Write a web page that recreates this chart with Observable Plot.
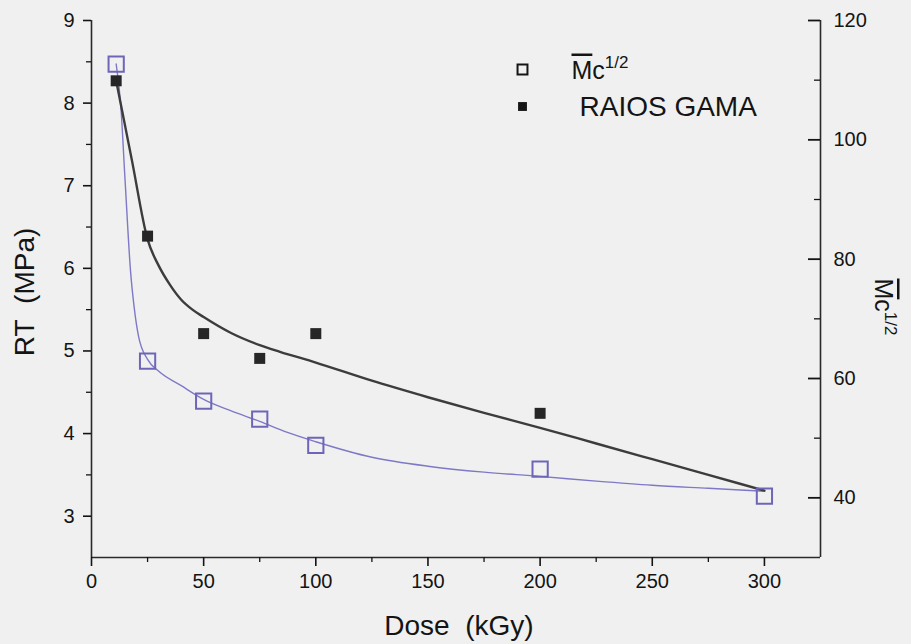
<!DOCTYPE html>
<html><head><meta charset="utf-8">
<script src="https://cdn.jsdelivr.net/npm/d3@7"></script>
<script src="https://cdn.jsdelivr.net/npm/@observablehq/plot@0.6"></script>
<style>
html,body{margin:0;padding:0;background:#f0f0f0;}
#chart{width:911px;height:644px;}
</style></head><body><div id="chart"></div>
<script>
// Measured points
const doses = [11, 25, 50, 75, 100, 200];
const rtValues = [8.27, 6.39, 5.21, 4.91, 5.21, 4.245];
const mcDoses = [11, 25, 50, 75, 100, 200, 300];
const mcValues = [112.7, 62.9, 56.2, 53.2, 48.8, 44.8, 40.3];
// Fitted curves
const rtFitDose = [11, 18, 25, 30, 35, 40, 45, 50, 62, 75, 84, 100, 125, 150, 175, 200, 225, 250, 275, 300];
const rtFitValues = [8.27, 7.31, 6.35, 6.03, 5.8, 5.62, 5.5, 5.41, 5.22, 5.07, 4.99, 4.86, 4.64, 4.44, 4.25, 4.07, 3.88, 3.69, 3.5, 3.31];
const mcFitDose = [11, 13, 15, 17.4, 19, 21, 25, 30, 40, 50, 62, 75, 87, 100, 125, 150, 175, 200, 225, 250, 275, 300];
const mcFitValues = [112.7, 106, 93, 78, 72, 67, 63.2, 61.2, 58.8, 56.5, 54.6, 52.8, 51.0, 49.4, 46.8, 45.3, 44.3, 43.6, 42.8, 42.1, 41.6, 41.1];
// Axes
const xDomain = [0, 325];
const leftDomain = [2.5, 9];
const rightDomain = [30, 120];
const xTicks = [0, 50, 100, 150, 200, 250, 300];
const xMinorTicks = [25, 75, 125, 175, 225, 275];
const leftTicks = [3, 4, 5, 6, 7, 8, 9];
const leftMinorTicks = [3.5, 4.5, 5.5, 6.5, 7.5, 8.5];
const rightTicks = [40, 60, 80, 100, 120];
const rightMinorTicks = [50, 70, 90, 110];
const xTitle = "Dose\u00a0\u00a0(kGy)";
const yTitle = "RT\u00a0\u00a0(MPa)";
const y2Title = "Mc1/2";
const legendLabels = ["Mc1/2", "RAIOS GAMA"];

const toLeft = w => leftDomain[0] + (w - rightDomain[0]) / (rightDomain[1] - rightDomain[0]) * (leftDomain[1] - leftDomain[0]);
const fromLeft = v => rightDomain[0] + (v - leftDomain[0]) / (leftDomain[1] - leftDomain[0]) * (rightDomain[1] - rightDomain[0]);

const rtData = doses.map((d, i) => ({dose: d, rt: rtValues[i]}));
const mcData = mcDoses.map((d, i) => ({dose: d, mc: mcValues[i]}));
const rtFit = rtFitDose.map((d, i) => ({dose: d, rt: rtFitValues[i]}));
const mcFit = mcFitDose.map((d, i) => ({dose: d, mc: mcFitValues[i]}));

const ink = "#141414";
const purple = "#6d66b8";

const plot = Plot.plot({
  width: 911, height: 644,
  marginTop: 20, marginBottom: 87, marginLeft: 91, marginRight: 91,
  x: {domain: xDomain},
  y: {domain: leftDomain},
  style: {background: "#f0f0f0", fontFamily: "'Liberation Sans', Arial, sans-serif", color: ink, overflow: "visible"},
  marks: [
    // axis lines
    Plot.ruleX([xDomain[0]], {stroke: "#2a2a2a", strokeWidth: 1.6}),
    Plot.ruleX([xDomain[1]], {stroke: "#2a2a2a", strokeWidth: 1.6}),
    Plot.ruleY([leftDomain[0]], {stroke: "#2a2a2a", strokeWidth: 1.6}),
    // left axis
    Plot.axisY({anchor: "left", ticks: leftTicks, tickFormat: d3.format("d"), tickSize: 8, tickPadding: 9, fontSize: 20, label: null, strokeWidth: 1.6, stroke: ink, fill: ink}),
    Plot.axisY({anchor: "left", ticks: leftMinorTicks, tickSize: 5, tickFormat: () => "", label: null, strokeWidth: 1.3, stroke: ink}),
    // bottom axis
    Plot.axisX({anchor: "bottom", ticks: xTicks, tickFormat: d3.format("d"), tickSize: 9, tickPadding: 7, fontSize: 20, label: null, strokeWidth: 1.6, stroke: ink, fill: ink}),
    Plot.axisX({anchor: "bottom", ticks: xMinorTicks, tickSize: 5, tickFormat: () => "", label: null, strokeWidth: 1.3, stroke: ink}),
    // right axis (ticks pointing inward)
    Plot.axisY({anchor: "right", ticks: rightTicks.map(toLeft), tickFormat: v => String(Math.round(fromLeft(v))), tickSize: 0, tickPadding: 13, fontSize: 20, label: null, fill: ink}),
    Plot.ruleY(rightTicks.map(toLeft), {x1: xDomain[1], x2: xDomain[1], insetLeft: -12, stroke: ink, strokeWidth: 1.8}),
    Plot.ruleY(rightMinorTicks.map(toLeft), {x1: xDomain[1], x2: xDomain[1], insetLeft: -6, stroke: ink, strokeWidth: 1.3}),
    // axis titles
    Plot.text([xTitle], {frameAnchor: "bottom", text: d => d, dx: 3, dy: 69, fontSize: 28, textAnchor: "middle", lineAnchor: "middle", fill: ink}),
    Plot.text([yTitle], {frameAnchor: "left", text: d => d, dx: -66, dy: 3, rotate: -90, fontSize: 28, textAnchor: "middle", lineAnchor: "middle", fill: ink}),
    Plot.text([y2Title], {frameAnchor: "right", text: d => d, dx: 62, dy: 18, rotate: 90, fontSize: 25, textAnchor: "middle", lineAnchor: "middle", fill: ink}),
    // curves
    Plot.line(mcFit, {x: "dose", y: d => toLeft(d.mc), curve: "monotone-x", stroke: "#7e79c6", strokeWidth: 1.4}),
    Plot.line(rtFit, {x: "dose", y: "rt", curve: "monotone-x", stroke: "#3c3c3c", strokeWidth: 2.4}),
    // points
    Plot.dot(mcData, {x: "dose", y: d => toLeft(d.mc), symbol: "square", r: 8.6, stroke: purple, strokeWidth: 2, fill: "none"}),
    Plot.dot(rtData, {x: "dose", y: "rt", symbol: "square", r: 6.2, fill: "#262626"}),
    // legend
    Plot.dot([legendLabels[0]], {frameAnchor: "top-left", dx: 431, dy: 49, symbol: "square", r: 5.6, stroke: "#151515", strokeWidth: 2, fill: "none"}),
    Plot.dot([legendLabels[1]], {frameAnchor: "top-left", dx: 431, dy: 86, symbol: "square", r: 5, fill: "#151515"}),
    Plot.text([legendLabels[0]], {frameAnchor: "top-left", text: d => d, dx: 480, dy: 50, fontSize: 25, textAnchor: "start", lineAnchor: "middle", fill: ink}),
    Plot.text([legendLabels[1]], {frameAnchor: "top-left", text: d => d, dx: 488, dy: 87, fontSize: 28, textAnchor: "start", lineAnchor: "middle", fill: ink})
  ]
});

// rich text for M̄c^1/2 labels
d3.select(plot).selectAll("text").filter(function() { return this.textContent === "Mc1/2"; }).each(function() {
  const t = d3.select(this);
  t.text(null);
  t.append("tspan").attr("text-decoration", "overline").text("M");
  t.append("tspan").text("c");
  t.append("tspan").attr("font-size", "0.68em").attr("dy", "-0.62em").text("1/2");
});

document.getElementById("chart").appendChild(plot);
</script>
</body></html>
